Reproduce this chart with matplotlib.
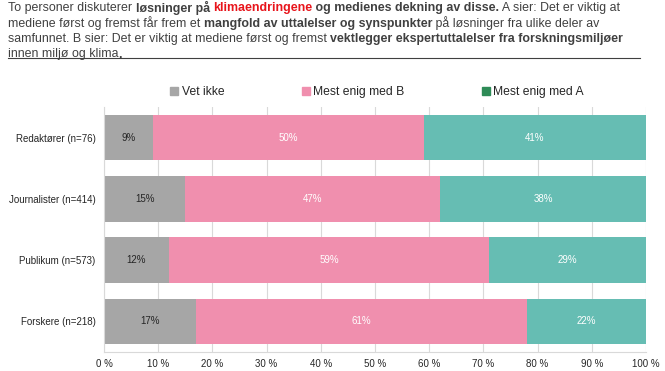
import matplotlib
matplotlib.use("Agg")
import matplotlib.pyplot as plt
from matplotlib.patches import Patch

plt.rcParams['font.family'] = ['Liberation Sans', 'DejaVu Sans']

# --- data
groups = ["Redaktører (n=76)", "Journalister (n=414)", "Publikum (n=573)", "Forskere (n=218)"]
vet_ikke = [9, 15, 12, 17]
enig_b = [50, 47, 59, 61]
enig_a = [41, 38, 29, 22]
xticks = [0, 10, 20, 30, 40, 50, 60, 70, 80, 90, 100]

c_gray = "#A6A6A6"
c_pink = "#F08FAE"
c_teal = "#66BDB3"
c_green = "#2E8B57"
txt = "#404040"

fig = plt.figure(figsize=(6.65, 3.71), dpi=100)
ax = fig.add_axes([0.1564, 0.0512, 0.815, 0.6604])

y = list(range(len(groups)))
h = 0.74
ax.barh(y, vet_ikke, height=h, color=c_gray, zorder=2)
ax.barh(y, enig_b, left=vet_ikke, height=h, color=c_pink, zorder=2)
left_a = [a + b for a, b in zip(vet_ikke, enig_b)]
ax.barh(y, enig_a, left=left_a, height=h, color=c_teal, zorder=2)

for i in y:
    ax.text(vet_ikke[i] / 2, i, f"{vet_ikke[i]}%", ha="center", va="center",
            fontsize=7, color="#262626", zorder=3)
    ax.text(vet_ikke[i] + enig_b[i] / 2, i, f"{enig_b[i]}%", ha="center", va="center",
            fontsize=7, color="white", zorder=3)
    ax.text(left_a[i] + enig_a[i] / 2, i, f"{enig_a[i]}%", ha="center", va="center",
            fontsize=7, color="white", zorder=3)

ax.set_xlim(0, 100)
ax.set_ylim(3.5, -0.5)
ax.set_yticks(y)
ax.set_yticklabels(groups, fontsize=7, color="#262626")
ax.set_xticks(xticks)
ax.set_xticklabels([f"{t} %" for t in xticks], fontsize=7, color="#262626")
ax.tick_params(axis="y", length=0, pad=6)
ax.tick_params(axis="x", length=0, pad=5)
ax.grid(axis="x", color="#D9D9D9", linewidth=0.8, zorder=0)
for s in ["top", "right"]:
    ax.spines[s].set_visible(False)
for s in ["left", "bottom"]:
    ax.spines[s].set_color("#D9D9D9")

handles = [Patch(color=c_gray, label="Vet ikke"),
           Patch(color=c_pink, label="Mest enig med B"),
           Patch(color=c_green, label="Mest enig med A")]
fig.legend(handles=handles, loc="center", bbox_to_anchor=(0.567, 0.752), ncol=3,
           frameon=False, fontsize=8.7, handlelength=0.65, handleheight=0.65,
           handletextpad=0.3, columnspacing=6.4, labelcolor="#262626")

# --- title block with mixed formatting
lines = [
    [("To personer diskuterer ", "normal", txt), ("løsninger på ", "bold", txt),
     ("klimaendringene", "bold", "#E8141B"), (" og medienes dekning av disse.", "bold", txt),
     (" A sier: Det er viktig at", "normal", txt)],
    [("mediene først og fremst får frem et ", "normal", txt),
     ("mangfold av uttalelser og synspunkter", "bold", txt),
     (" på løsninger fra ulike deler av", "normal", txt)],
    [("samfunnet. B sier: Det er viktig at mediene først og fremst ", "normal", txt),
     ("vektlegger ekspertuttalelser fra forskningsmiljøer", "bold", txt)],
    [("innen miljø og klima", "normal", txt), (".", "bold", txt)],
]
fig.canvas.draw()
r = fig.canvas.get_renderer()
W, H = fig.get_size_inches() * fig.dpi
ypix = [8, 23.5, 39, 54.5]
for line, yp in zip(lines, ypix):
    x = 8
    for s, w, c in line:
        t = fig.text(x / W, 1 - yp / H, s, fontsize=8.9, fontweight=w, color=c,
                     ha="left", va="center")
        x = t.get_window_extent(renderer=r).x1
fig.add_artist(plt.Line2D([8 / W, 640 / W], [1 - 58 / H, 1 - 58 / H],
                          color="#404040", linewidth=0.8))

fig.savefig("out.png", dpi=100)
